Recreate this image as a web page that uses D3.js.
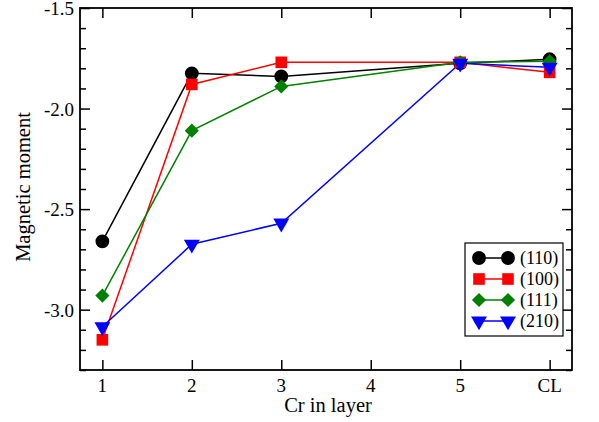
<!DOCTYPE html>
<html>
<head>
<script src="https://d3js.org/d3.v7.min.js"></script>
<style>
body { margin: 0; background: #fff; }
svg text { font-family: "Liberation Serif", serif !important; }
</style>
</head>
<body>
<svg id="svg"></svg>
<script>
const layers = [1, 2, 3, 5, 6];
const tickLabels = ["1", "2", "3", "4", "5", "CL"];
const s110 = [-2.66, -1.825, -1.84, -1.775, -1.755];
const s100 = [-3.15, -1.88, -1.77, -1.77, -1.82];
const s111 = [-2.93, -2.11, -1.89, -1.77, -1.765];
const s210 = [-3.085, -2.675, -2.57, -1.775, -1.795];

const series = [
  { name: "(110)", values: s110, color: "#000000", shape: d3.symbolCircle, size: 150, rot: 0 },
  { name: "(100)", values: s100, color: "#ff0000", shape: d3.symbolSquare, size: 135, rot: 0 },
  { name: "(111)", values: s111, color: "#008000", shape: d3.symbolSquare, size: 100, rot: 45 },
  { name: "(210)", values: s210, color: "#0000ff", shape: d3.symbolTriangle, size: 110, rot: 180 }
];

const width = 599, height = 422;
const m = { left: 80, right: 27, top: 8, bottom: 52 };
const serif = '"Liberation Serif"';

const svg = d3.select("#svg").attr("width", width).attr("height", height);

const x = d3.scaleLinear().domain([0.75, 6.25]).range([m.left, width - m.right]);
const y = d3.scaleLinear().domain([-3.3, -1.5]).range([height - m.bottom, m.top]);

const g = svg.append("g");

// ticks on all four sides, pointing inward
const yMajor = [-3.0, -2.5, -2.0, -1.5];
const yMinor = d3.range(-3.3, -1.49, 0.1).map(v => +v.toFixed(1)).filter(v => !yMajor.includes(v));

g.append("g").attr("transform", `translate(${m.left},0)`)
  .call(d3.axisRight(y).tickValues(yMajor).tickSize(10).tickFormat(""))
  .call(a => a.select(".domain").remove());
g.append("g").attr("transform", `translate(${m.left},0)`)
  .call(d3.axisRight(y).tickValues(yMinor).tickSize(6).tickFormat(""))
  .call(a => a.select(".domain").remove());
g.append("g").attr("transform", `translate(${width - m.right},0)`)
  .call(d3.axisLeft(y).tickValues(yMajor).tickSize(10).tickFormat(""))
  .call(a => a.select(".domain").remove());
g.append("g").attr("transform", `translate(${width - m.right},0)`)
  .call(d3.axisLeft(y).tickValues(yMinor).tickSize(6).tickFormat(""))
  .call(a => a.select(".domain").remove());

g.append("g").attr("transform", `translate(0,${height - m.bottom})`)
  .call(d3.axisTop(x).tickValues(d3.range(1, 7)).tickSize(10).tickFormat(""))
  .call(a => a.select(".domain").remove());
g.append("g").attr("transform", `translate(0,${m.top})`)
  .call(d3.axisBottom(x).tickValues(d3.range(1, 7)).tickSize(10).tickFormat(""))
  .call(a => a.select(".domain").remove());
g.selectAll(".tick line").attr("stroke", "#000").attr("stroke-width", 1.5);
g.selectAll(".tick text").remove();

// tick labels
g.selectAll(".ylab").data(yMajor).join("text")
  .attr("x", m.left - 6).attr("y", d => y(d) + 7)
  .attr("text-anchor", "end").attr("font-size", 19)
  .style("font-family", serif)
  .text(d => d.toFixed(1));
g.selectAll(".xlab").data(d3.range(1, 7)).join("text")
  .attr("x", d => x(d)).attr("y", height - m.bottom + 22)
  .attr("text-anchor", "middle").attr("font-size", 19)
  .style("font-family", serif)
  .text((d, i) => tickLabels[i]);

// frame
g.append("rect")
  .attr("x", m.left).attr("y", m.top)
  .attr("width", width - m.left - m.right).attr("height", height - m.top - m.bottom)
  .attr("fill", "none").attr("stroke", "#000").attr("stroke-width", 1.8);

// axis titles
svg.append("text").attr("x", (m.left + width - m.right) / 2 + 2).attr("y", height - 10)
  .attr("text-anchor", "middle").attr("font-size", 20.5)
  .style("font-family", serif).text("Cr in layer");
svg.append("text").attr("transform", `translate(30,${(m.top + height - m.bottom) / 2 - 2}) rotate(-90)`)
  .attr("text-anchor", "middle").attr("font-size", 20.5)
  .style("font-family", serif).text("Magnetic moment");

// series
const line = d3.line().x((d, i) => x(layers[i])).y(d => y(d));
series.forEach(s => {
  g.append("path").datum(s.values).attr("d", line)
    .attr("fill", "none").attr("stroke", s.color).attr("stroke-width", 1.5);
});
series.forEach(s => {
  g.selectAll(null).data(s.values).join("path")
    .attr("d", d3.symbol().type(s.shape).size(s.size))
    .attr("transform", (d, i) => `translate(${x(layers[i])},${y(d)}) rotate(${s.rot})`)
    .attr("fill", s.color);
});

// legend
const lg = svg.append("g").attr("transform", "translate(465,243)");
lg.append("rect").attr("width", 98).attr("height", 93)
  .attr("fill", "#fff").attr("stroke", "#000").attr("stroke-width", 1.2);
series.forEach((s, i) => {
  const yy = 15 + i * 21;
  lg.append("line").attr("x1", 14).attr("x2", 43).attr("y1", yy).attr("y2", yy)
    .attr("stroke", s.color).attr("stroke-width", 1.5);
  [14, 43].forEach(px => {
    lg.append("path").attr("d", d3.symbol().type(s.shape).size(s.size))
      .attr("transform", `translate(${px},${yy}) rotate(${s.rot})`).attr("fill", s.color);
  });
  lg.append("text").attr("x", 55).attr("y", yy + 6).attr("font-size", 18)
    .style("font-family", serif).text(s.name);
});
</script>
</body>
</html>
